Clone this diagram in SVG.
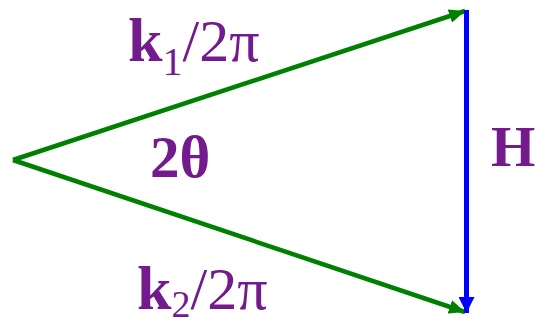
<svg xmlns="http://www.w3.org/2000/svg" width="536" height="326" viewBox="0 0 536 326">
<style>
.g{stroke:#008000;stroke-width:4.5;fill:none}
.b{stroke:#0000ff;stroke-width:5;fill:none}
.t{font-family:"Liberation Serif",serif;fill:#731a8c}
.bd{font-weight:bold}
</style>
<defs>
<marker id="ag" viewBox="0 0 16 14" refX="16" refY="7" markerWidth="16" markerHeight="14" markerUnits="userSpaceOnUse" orient="auto"><path d="M0,0 L16,7 L0,14 Z" fill="#008000"/></marker>
<marker id="ab" viewBox="0 0 16 16" refX="16" refY="8" markerWidth="16" markerHeight="16" markerUnits="userSpaceOnUse" orient="auto"><path d="M0,0 L16,8 L0,16 Z" fill="#0000ff"/></marker>
</defs>
<g id="connectors">
<line class="g" x1="13" y1="160" x2="465" y2="11" marker-end="url(#ag)"/>
<line class="g" x1="13" y1="160" x2="465" y2="312" marker-end="url(#ag)"/>
<line class="b" x1="466.5" y1="10" x2="466.5" y2="313" marker-end="url(#ab)"/>
</g>
<g id="k1">
<text class="t" x="128" y="61" font-size="62"><tspan class="bd">k</tspan><tspan font-size="40" dy="14">1</tspan><tspan font-size="60" dy="-14">/2π</tspan></text>
</g>
<g id="k2">
<text class="t" x="137" y="309" font-size="62"><tspan class="bd">k</tspan><tspan font-size="38" dy="8">2</tspan><tspan font-size="60" dy="-8">/2π</tspan></text>
</g>
<g id="angle">
<text class="t bd" x="150" y="177" font-size="59">2θ</text>
</g>
<g id="H">
<text class="t bd" x="491" y="166" font-size="57">H</text>
</g>
</svg>
